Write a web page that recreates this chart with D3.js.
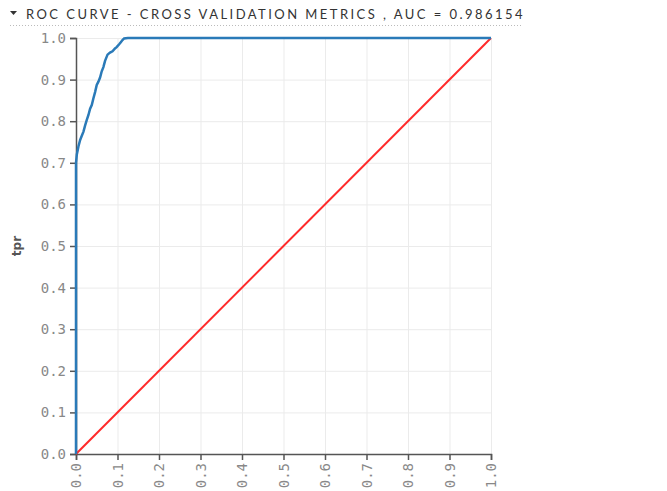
<!DOCTYPE html>
<meta charset="utf-8">
<html>
<head>
  <title>ROC Curve</title>
  <style>
    body { margin: 0; background: #fff; }
    svg { width: 667px; height: 491px; display: block; }
    .title {
      font-family: Lato, sans-serif;
      font-size: 13px;
      letter-spacing: 2.45px;
      fill: #333;
    }
    .tick text {
      font-family: 'DejaVu Sans Mono', monospace;
      font-size: 14px;
      fill: #888;
    }
    .axis path, .axis line { stroke: #555; stroke-width: 1.5px; }
    .grid line { stroke: #ebebeb; stroke-width: 1px; }
    .grid path { display: none; }
    .line { fill: none; stroke-width: 2px; }
  </style>
  <script src="https://d3js.org/d3.v7.min.js"></script>
</head>
<body>
  <svg></svg>
  <script>
    // roc points
    var fpr = [0, 0, 0.002, 0.006, 0.01, 0.014, 0.018, 0.022, 0.026, 0.03, 0.034, 0.038, 0.042, 0.046, 0.05, 0.054, 0.058, 0.062, 0.066, 0.07, 0.076, 0.082, 0.088, 0.094, 0.098, 0.104, 0.108, 0.112, 0.116, 0.125, 0.2, 0.4, 0.6, 0.8, 1.0];
    var tpr = [0, 0.70, 0.72, 0.74, 0.755, 0.765, 0.775, 0.79, 0.803, 0.815, 0.83, 0.839, 0.855, 0.87, 0.887, 0.895, 0.905, 0.92, 0.93, 0.945, 0.96, 0.965, 0.968, 0.975, 0.978, 0.985, 0.99, 0.995, 0.999, 1.0, 1.0, 1.0, 1.0, 1.0, 1.0];
    var diag = [0, 1];
    var ticks = [0, 0.1, 0.2, 0.3, 0.4, 0.5, 0.6, 0.7, 0.8, 0.9, 1.0];
    var titleText = "ROC CURVE - CROSS VALIDATION METRICS , AUC = 0.986154";

    var svg = d3.select("svg");
    var margin = {top: 38, right: 176, bottom: 37, left: 76};
    var width = 667 - margin.left - margin.right;
    var height = 491 - margin.top - margin.bottom;

    var x = d3.scaleLinear().domain([0, 1]).range([0, width]);
    var y = d3.scaleLinear().domain([0, 1]).range([height, 0]);

    // title with the little caret and dotted rule
    svg.append("path")
      .attr("d", "M10,11 L17,11 L13.5,15 Z")
      .attr("fill", "#333");
    svg.append("text")
      .attr("class", "title")
      .attr("x", 26)
      .attr("y", 19)
      .text(titleText);
    svg.append("line")
      .attr("x1", 10).attr("x2", 522)
      .attr("y1", 25.5).attr("y2", 25.5)
      .attr("stroke", "#bbb")
      .attr("stroke-dasharray", "1,2");

    var g = svg.append("g")
      .attr("transform", "translate(" + margin.left + "," + margin.top + ")");

    // grid
    g.append("g")
      .attr("class", "grid")
      .attr("transform", "translate(0," + height + ")")
      .call(d3.axisBottom(x).tickValues(ticks).tickSize(-height).tickFormat(""));
    g.append("g")
      .attr("class", "grid")
      .call(d3.axisLeft(y).tickValues(ticks).tickSize(-width).tickFormat(""));

    // axes
    var xAxis = g.append("g")
      .attr("class", "axis")
      .attr("transform", "translate(0," + height + ")")
      .call(d3.axisBottom(x).tickValues(ticks).tickSize(6).tickSizeOuter(6).tickFormat(d3.format(".1f")));
    xAxis.selectAll(".tick text")
      .attr("transform", "rotate(-90)")
      .attr("text-anchor", "end")
      .attr("x", -9)
      .attr("y", 0)
      .attr("dy", "0.35em");

    g.append("g")
      .attr("class", "axis")
      .call(d3.axisLeft(y).tickValues(ticks).tickSize(6).tickSizeOuter(6).tickFormat(d3.format(".1f")))
      .selectAll(".tick text")
      .attr("x", -10);

    svg.append("text")
      .attr("transform", "translate(21," + (margin.top + height / 2) + ") rotate(-90)")
      .attr("text-anchor", "middle")
      .style("font-family", "'DejaVu Sans', sans-serif")
      .style("font-size", "12px")
      .style("font-weight", "bold")
      .style("fill", "#555")
      .text("tpr");

    var line = d3.line()
      .x(function(d) { return x(d[0]); })
      .y(function(d) { return y(d[1]); });

    g.append("path")
      .attr("class", "line")
      .attr("d", line(diag.map(function(v) { return [v, v]; })))
      .style("stroke", "#ff2a2a");

    g.append("path")
      .attr("class", "line")
      .attr("d", line(fpr.map(function(v, i) { return [v, tpr[i]]; })))
      .style("stroke", "#2a7ab8")
      .style("stroke-width", "2.5px");
  </script>
</body>
</html>
